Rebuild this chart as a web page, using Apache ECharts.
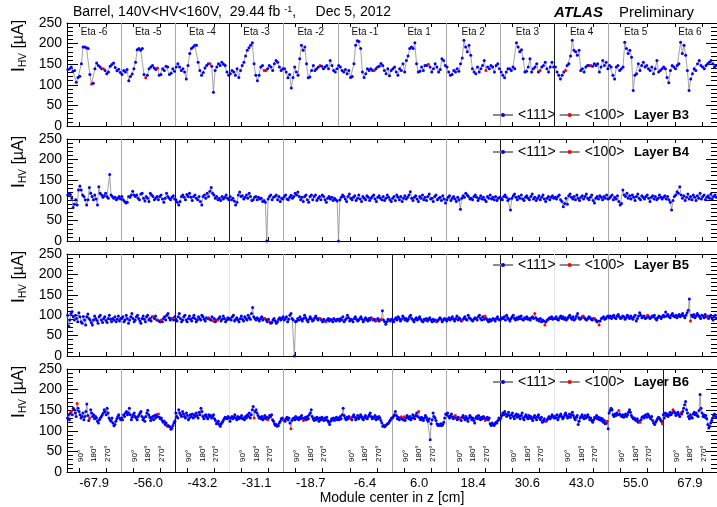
<!DOCTYPE html>
<html><head><meta charset="utf-8">
<script src="https://cdn.jsdelivr.net/npm/echarts@6/dist/echarts.min.js"></script>
<style>html,body{margin:0;padding:0;background:#fff}#c{width:717px;height:507px}</style>
</head><body><div id="c"></div>
<script>
// ---------- data ----------
const zLabels = ['-67.9','-56.0','-43.2','-31.1','-18.7','-6.4','6.0','18.4','30.6','43.0','55.0','67.9'];
const etaLabels = ['Eta -6','Eta -5','Eta -4','Eta -3','Eta -2','Eta -1','Eta 1','Eta 2','Eta 3','Eta 4','Eta 5','Eta 6'];
const angleLabels = ['90°','180°','270°'];
const layerNames = ['Layer B3','Layer B4','Layer B5','Layer B6'];
const seriesNames = ['<111>','<100>'];

// I_HV [uA] per module, one row per eta ring (phi order)
const b3 = [
[137,139,143,133,135,106,118,121,151,192,192,190,188,125,102,104,139,153,147,143,139,139,135,127,131,145,149,153,142,134,138,130],
[125,135,131,137,110,120,126,139,155,185,188,184,188,125,117,123,139,143,147,141,137,141,123,125,139,135,145,143,125,128,139,133],
[143,151,143,135,139,131,114,147,176,188,192,196,196,155,135,123,130,141,147,151,151,145,82,135,143,151,147,155,150,147,131,123],
[127,135,131,123,139,118,135,147,155,170,184,190,196,202,151,123,110,123,143,147,135,135,139,147,143,135,151,159,155,143,135,139],
[139,131,117,125,92,118,143,131,123,163,196,184,192,151,117,119,135,147,135,139,143,147,145,139,143,147,139,159,147,135,131,139],
[147,143,135,131,137,127,135,118,120,151,196,207,205,188,131,118,127,139,135,139,135,135,139,143,145,152,147,135,127,139,122,135],
[139,143,131,123,139,135,151,131,159,170,188,192,188,202,151,131,133,143,135,147,147,150,143,131,139,151,143,131,137,163,159,147],
[143,131,123,125,135,131,139,133,151,165,208,192,180,196,172,139,131,127,143,131,139,147,159,135,143,139,147,143,131,147,151,139],
[131,123,117,131,139,139,135,143,139,202,192,180,185,163,131,133,143,163,131,139,143,151,131,135,143,147,155,139,131,143,155,143],
[143,131,123,114,123,131,135,147,151,170,208,184,180,172,184,135,139,131,143,147,147,147,145,151,147,151,131,143,159,147,155,139],
[147,143,123,114,143,147,135,139,143,203,188,176,184,167,86,123,127,151,135,147,155,143,147,139,135,143,127,139,159,131,135,139],
[143,139,118,105,135,147,143,139,147,151,203,176,196,172,135,86,114,127,139,135,151,159,147,143,139,147,151,155,159,151,143,147]
];
const b4 = [
[113,117,114,105,82,90,101,88,125,135,125,113,109,101,88,101,131,117,109,101,113,103,88,133,117,113,107,111,117,109,105,163,113,109,105,107,101,105,109,103],
[109,101,97,93,95,109,107,113,122,113,109,113,105,101,115,117,105,98,109,105,97,117,113,109,101,105,109,101,109,113,103,95,105,117,109,105,101,107,111,103],
[101,95,88,97,109,113,107,101,114,109,117,107,99,109,113,105,101,109,97,88,109,113,105,117,109,122,131,117,113,105,109,101,105,99,109,103,107,113,105,101],
[109,101,105,98,88,95,113,120,109,111,103,107,113,105,117,109,99,101,107,109,101,107,103,105,97,99,95,0,103,109,113,101,107,109,113,101,109,97,105,103],
[109,113,103,101,107,112,105,109,117,113,120,109,101,107,97,109,113,101,95,109,113,101,109,113,99,105,109,101,113,109,101,95,105,109,103,107,99,105,101,98],
[0,101,107,113,109,103,97,109,115,105,101,107,111,99,105,113,103,97,109,105,101,111,107,99,105,109,113,103,97,107,111,105,101,109,99,105,113,107,101,97],
[105,109,99,113,107,101,109,97,105,111,103,107,113,121,105,99,107,111,103,97,109,105,113,101,107,99,109,115,103,105,97,109,113,101,105,107,99,111,103,93],
[101,107,111,99,105,109,103,97,107,101,78,105,111,107,117,113,109,103,105,101,109,113,107,99,105,111,103,107,101,97,109,105,113,103,107,101,109,99,105,107],
[105,101,109,113,107,99,103,76,105,111,115,107,101,109,105,113,103,99,107,111,105,101,109,115,103,107,99,105,111,101,107,113,103,97,105,109,101,107,111,105],
[107,103,109,113,101,97,84,92,105,90,111,115,107,103,109,101,113,105,99,107,111,103,109,115,105,101,107,113,99,93,105,109,103,111,107,101,109,105,113,103],
[105,109,113,101,107,103,111,97,88,92,125,113,109,117,105,111,103,113,107,99,109,115,105,101,111,107,103,109,113,105,97,107,111,103,109,101,105,113,107,103],
[107,111,103,109,101,95,76,99,109,113,121,117,133,113,105,111,99,107,115,103,109,101,113,107,99,111,105,117,103,109,113,101,107,111,105,115,103,109,113,107]
];
const b5 = [
[100,73,88,104,109,96,88,100,92,84,106,96,84,80,97,88,76,96,103,92,88,82,76,88,98,92,87,80,96,100,88,82,92,96,87,82,92,100,90,84,92,88,96,84,90,98,86,92],
[92,96,84,88,100,92,80,88,96,104,92,84,88,96,100,92,86,80,92,98,90,84,96,100,88,92,86,96,96,92,98,88,88,86,84,88,84,92,96,88,100,104,94,88,92,92,88,96],
[90,86,96,104,92,84,88,96,100,88,84,92,98,90,86,94,100,92,84,88,96,92,88,100,96,90,86,94,92,94,90,88,96,86,92,84,88,88,92,96,86,90,98,92,84,88,94,90],
[92,88,96,100,86,90,94,88,84,92,98,90,86,96,92,88,100,94,90,104,119,96,92,88,94,90,86,92,96,88,92,92,88,84,90,84,80,82,88,92,86,80,84,90,94,88,92,96],
[88,92,96,84,90,100,104,92,88,0,84,86,92,88,96,90,86,92,100,94,88,84,90,96,92,86,88,94,98,92,88,92,92,88,84,90,86,84,88,92,86,90,88,84,92,88,86,90],
[90,86,92,88,96,84,88,92,100,94,86,90,88,84,92,96,90,86,88,92,96,90,84,88,94,90,86,92,88,94,92,88,90,86,88,92,86,88,90,111,88,84,78,84,90,88,86,90],
[88,84,90,94,88,96,92,86,90,98,94,88,92,86,90,96,100,92,88,84,90,94,88,92,96,90,86,84,90,88,92,86,90,94,88,84,90,86,88,84,86,90,94,90,84,88,92,90],
[86,90,94,88,92,96,90,86,92,98,88,94,90,86,88,92,96,90,88,100,94,92,88,86,90,94,92,88,96,100,92,88,96,90,98,92,88,84,90,86,88,92,90,86,92,96,90,88],
[90,94,92,96,88,100,94,90,86,92,96,100,92,88,94,90,96,92,98,90,88,94,92,96,90,92,88,94,96,92,104,94,88,90,86,92,84,88,86,76,84,88,90,94,92,96,90,92],
[92,96,90,88,94,98,92,96,90,94,88,92,96,100,94,90,96,88,92,98,104,94,90,92,96,98,94,90,88,92,96,94,90,88,92,92,88,84,86,76,86,92,94,96,90,92,96,98],
[94,98,92,96,100,94,92,98,102,96,92,94,98,96,90,94,100,96,92,98,94,90,96,100,86,92,98,106,100,94,96,98,92,94,100,96,92,94,98,96,100,92,88,94,98,96,92,96],
[100,96,108,98,102,96,94,100,104,98,96,100,94,98,102,96,100,104,98,94,100,106,112,140,86,100,96,102,94,98,104,100,96,92,100,98,94,102,96,98,92,96,100,94,88,96,100,92]
];
const b6 = [
[131,139,127,143,147,139,155,151,143,135,166,155,147,139,131,135,143,127,135,147,165,137,125,131,151,143,135,139,129,135,131,123,119,127,131,135,139,143,151,147,139,155,143,131,127,123,131,119,112,115,123,129,135,139,131,127],
[131,127,139,135,143,147,139,143,155,139,127,133,139,143,135,131,127,135,139,143,147,135,127,131,123,135,143,150,139,133,125,131,135,127,137,131,139,135,141,133,129,131,125,121,123,115,119,111,113,111,109,104,107,113,119,123],
[143,135,131,151,143,139,135,147,141,135,131,143,137,127,131,139,135,141,131,139,135,143,137,131,145,139,155,147,135,129,137,139,133,129,139,135,137,131,135,139,129,125,117,119,123,115,111,117,121,125,129,133,131,129,135,131],
[123,131,135,129,133,139,131,127,135,129,133,131,137,129,131,127,135,131,139,135,143,131,139,151,159,131,147,151,143,137,131,133,129,135,127,131,137,129,133,127,131,137,135,139,127,123,117,113,115,111,113,119,123,129,131,127],
[127,123,129,133,127,131,119,105,125,129,131,127,135,129,131,127,133,129,137,131,125,129,133,127,135,129,139,143,151,135,129,125,131,127,133,129,123,131,127,133,129,125,131,127,133,125,121,115,123,129,127,131,125,129,133,127],
[131,127,135,129,139,155,137,131,127,133,129,135,131,131,127,135,139,133,127,131,137,129,133,139,135,129,127,133,137,131,129,135,139,143,135,129,133,131,137,127,133,129,135,131,125,119,111,113,110,113,115,117,119,123,127,131],
[131,135,139,147,137,129,133,127,131,134,129,127,134,125,131,137,133,129,135,127,131,139,133,129,137,143,135,147,131,127,133,129,125,131,137,133,127,123,129,78,117,127,143,135,131,125,117,113,115,113,117,113,115,121,131,141],
[139,143,135,131,137,141,133,129,135,137,131,127,133,129,131,125,133,137,131,127,135,129,123,131,137,133,127,131,125,119,131,135,129,137,131,127,133,129,135,131,125,129,133,127,131,117,113,119,115,113,117,121,119,125,131,127],
[131,137,143,139,147,141,135,139,145,137,131,139,143,135,129,137,141,133,139,135,129,137,143,131,127,135,139,133,129,137,131,135,129,125,133,137,131,127,135,139,131,127,133,121,125,129,123,123,127,131,135,129,133,139,135,131],
[135,131,139,127,133,137,141,135,129,133,139,143,137,131,135,141,133,139,145,137,131,127,133,137,115,123,131,135,139,133,129,137,131,135,139,133,127,131,125,121,127,133,131,137,129,133,127,131,125,129,121,125,117,119,123,105],
[143,149,155,151,139,135,141,137,143,139,149,141,137,135,139,133,137,141,135,139,145,151,145,137,133,129,131,127,125,129,121,123,121,127,133,135,131,137,139,133,141,137,133,129,135,125,119,115,121,125,129,133,131,127,123,117],
[139,131,143,137,141,135,139,145,139,143,151,147,143,137,141,145,139,135,143,141,147,155,163,171,151,143,135,129,139,133,131,141,145,139,143,137,135,149,188,155,143,135,139,133,137,129,115,107,111,119,125,131,137,141,135,133]
];
// phi positions (within each eta ring) of <100> modules
const b3Red = [[14,21],[14,21],[20],[20,21],[21],[21],[21],[23],[23],[6,21],[],[]];
const b4Red = [[],[],[],[],[],[],[],[],[],[],[],[]];
const b5Red = [[],[28,32,35,45],[29,33,37],[31,35],[32,37],[30,34,38],[39],[14,34],[30,39],[25,35,39],[34],[24,39]];
const b6Red = [[4,10,23],[38,47],[],[25,39],[0,7,20],[13],[9,12,27],[9,14,40],[47],[54],[10,32,55],[10,18]];

// ---------- layout / style ----------
const FONT = '"Liberation Sans", Arial, Helvetica, sans-serif';
const BLUE = '#0000ff', RED = '#ff0000', LINE = '#8a8a8a';
const panels = [
  {values:b3, red:b3Red, name:layerNames[0]},
  {values:b4, red:b4Red, name:layerNames[1]},
  {values:b5, red:b5Red, name:layerNames[2]},
  {values:b6, red:b6Red, name:layerNames[3]}
];
const gridTop = [23, 139, 254, 369];
const gridH = [103, 102, 102, 103];
const legendTop = [108, 145, 258, 375];
const dividers = [
  {dark:[3,9], light:[1,2,4,5,7,8,10], faint:[]},
  {dark:[2,3,8], light:[1,4,7,10], faint:[]},
  {dark:[2,6,8], light:[1,4,7,10], faint:[3,9]},
  {dark:[2,8,11], light:[1,4,6,7,10], faint:[3,9]}
];

const nSec = zLabels.length;
const tickVals = [], centerVals = [], angleVals = [];
for (let k = 0; k < nSec; k++) {
  tickVals.push(k + 0.22, k + 0.72);
  centerVals.push(k + 0.5);
  angleVals.push(k + 0.25, k + 0.5, k + 0.75);
}

const grid = [], xAxis = [], yAxis = [], series = [], legend = [], graphic = [];

function xBase(i, pos) {
  return {
    type:'value', gridIndex:i, min:0, max:nSec, position:pos,
    splitLine:{show:false},
    axisLine:{show:true, onZero:false, lineStyle:{color:'#000', width:1}},
    axisTick:{show:true, inside:true, length:4, customValues:tickVals, lineStyle:{color:'#000'}},
    axisLabel:{show:false}
  };
}
function yBase(i, pos) {
  return {
    type:'value', gridIndex:i, min:0, max:250, interval:50, position:pos,
    splitLine:{show:false},
    axisLine:{show:pos === 'left', onZero:false, lineStyle:{color:'#000', width:1}},
    axisTick:{show:true, inside:true, length:11, lineStyle:{color:'#000'}},
    minorTick:{show:true, splitNumber:5, length:6, lineStyle:{color:'#000'}},
    axisLabel: pos === 'left' ? {show:true, color:'#000', fontSize:14, margin:5, fontFamily:FONT} : {show:false}
  };
}

panels.forEach((p, i) => {
  grid.push({left:67, right:0, top:gridTop[i], height:gridH[i]});
  const xb = xBase(i, 'bottom');
  if (i === 3) {
    xb.axisLabel = {show:true, customValues:centerVals, formatter:v => zLabels[Math.floor(v)],
      color:'#000', fontSize:13, margin:5, fontFamily:FONT};
    xb.name = 'Module center in z [cm]';
    xb.nameLocation = 'middle';
    xb.nameGap = 19;
    xb.nameTextStyle = {color:'#000', fontSize:14, fontFamily:FONT};
  }
  const xt = xBase(i, 'top');
  if (i === 0) {
    xt.axisLabel = {show:true, inside:true, customValues:centerVals, formatter:v => etaLabels[Math.floor(v)],
      color:'#111', fontSize:10, margin:4, fontFamily:FONT};
  }
  xAxis.push(xb, xt);
  yAxis.push(yBase(i, 'left'), yBase(i, 'right'));

  const m = p.values[0].length;
  const data = [];
  p.values.forEach((row, s) => row.forEach((v, j) => {
    const item = {value:[s + (j + 0.5) / m, v]};
    if (p.red[s].includes(j)) item.itemStyle = {color:RED};
    data.push(item);
  }));
  const d = dividers[i];
  const ml = [];
  d.faint.forEach(k => ml.push({xAxis:k, lineStyle:{color:'#e4e4e4', width:1, type:'solid'}}));
  d.light.forEach(k => ml.push({xAxis:k, lineStyle:{color:'#a8a8a8', width:1, type:'solid'}}));
  d.dark.forEach(k => ml.push({xAxis:k, lineStyle:{color:'#1a1a1a', width:1, type:'solid'}}));
  series.push({
    type:'line', name:seriesNames[0], xAxisIndex:2*i, yAxisIndex:2*i, data,
    symbol:'circle', symbolSize:3, showAllSymbol:true,
    itemStyle:{color:BLUE}, lineStyle:{color:LINE, width:0.8},
    emphasis:{disabled:true}, animation:false, z:3,
    markLine:{silent:true, symbol:['none','none'], label:{show:false}, animation:false, z:1,
      lineStyle:{type:'solid'}, data:ml}
  });
  series.push({
    type:'line', name:seriesNames[1], xAxisIndex:2*i, yAxisIndex:2*i, data:[],
    symbol:'circle', symbolSize:3, itemStyle:{color:RED}, lineStyle:{color:LINE, width:0.8}, animation:false
  });
  legend.push({
    show:true, data:seriesNames.slice(), left:492, top:legendTop[i], padding:0,
    itemWidth:20, itemHeight:5, itemGap:3, selectedMode:false,
    textStyle:{color:'#000', fontSize:14, fontFamily:FONT}
  });
  graphic.push({type:'text', x:634, y:legendTop[i] + 7, silent:true,
    style:{text:p.name, fill:'#000', font:'bold 13px ' + FONT, verticalAlign:'middle'}});
  graphic.push({type:'text', x:19, y:gridTop[i] + 23, rotation:Math.PI / 2, silent:true,
    style:{text:'{a|I}{s|HV}{b| [µA]}', align:'center', verticalAlign:'middle',
      rich:{a:{fontSize:19, fontFamily:FONT, fill:'#000'},
            s:{fontSize:10, fontFamily:FONT, fill:'#000', verticalAlign:'bottom'},
            b:{fontSize:16, fontFamily:FONT, fill:'#000'}}}});
});

// 90/180/270 degree labels in bottom panel
xAxis.push({
  type:'value', gridIndex:3, min:0, max:nSec, position:'bottom',
  axisLine:{show:false, onZero:false}, axisTick:{show:false}, splitLine:{show:false},
  axisLabel:{show:true, inside:true, rotate:90, margin:10, customValues:angleVals,
    formatter:v => angleLabels[Math.round((v - Math.floor(v)) * 4) - 1],
    color:'#000', fontSize:8, fontFamily:FONT}
});

graphic.push({type:'text', x:73, y:12, silent:true,
  style:{text:'{n|Barrel, 140V<HV<160V,  29.44 fb }{s|-1}{n|,     Dec 5, 2012}', verticalAlign:'middle',
    rich:{n:{fontSize:14, fontFamily:FONT, fill:'#000'}, s:{fontSize:9, fontFamily:FONT, fill:'#000', verticalAlign:'top'}}}});
graphic.push({type:'text', x:554, y:13, silent:true,
  style:{text:'ATLAS', font:'italic bold 15px ' + FONT, fill:'#000', verticalAlign:'middle'}});
graphic.push({type:'text', x:619, y:13, silent:true,
  style:{text:'Preliminary', font:'15px ' + FONT, fill:'#000', verticalAlign:'middle'}});

const chart = echarts.init(document.getElementById('c'), null, {renderer:'canvas'});
chart.setOption({
  animation:false,
  backgroundColor:'#fff',
  textStyle:{fontFamily:FONT},
  grid, xAxis, yAxis, series, legend, graphic
});
</script></body></html>
